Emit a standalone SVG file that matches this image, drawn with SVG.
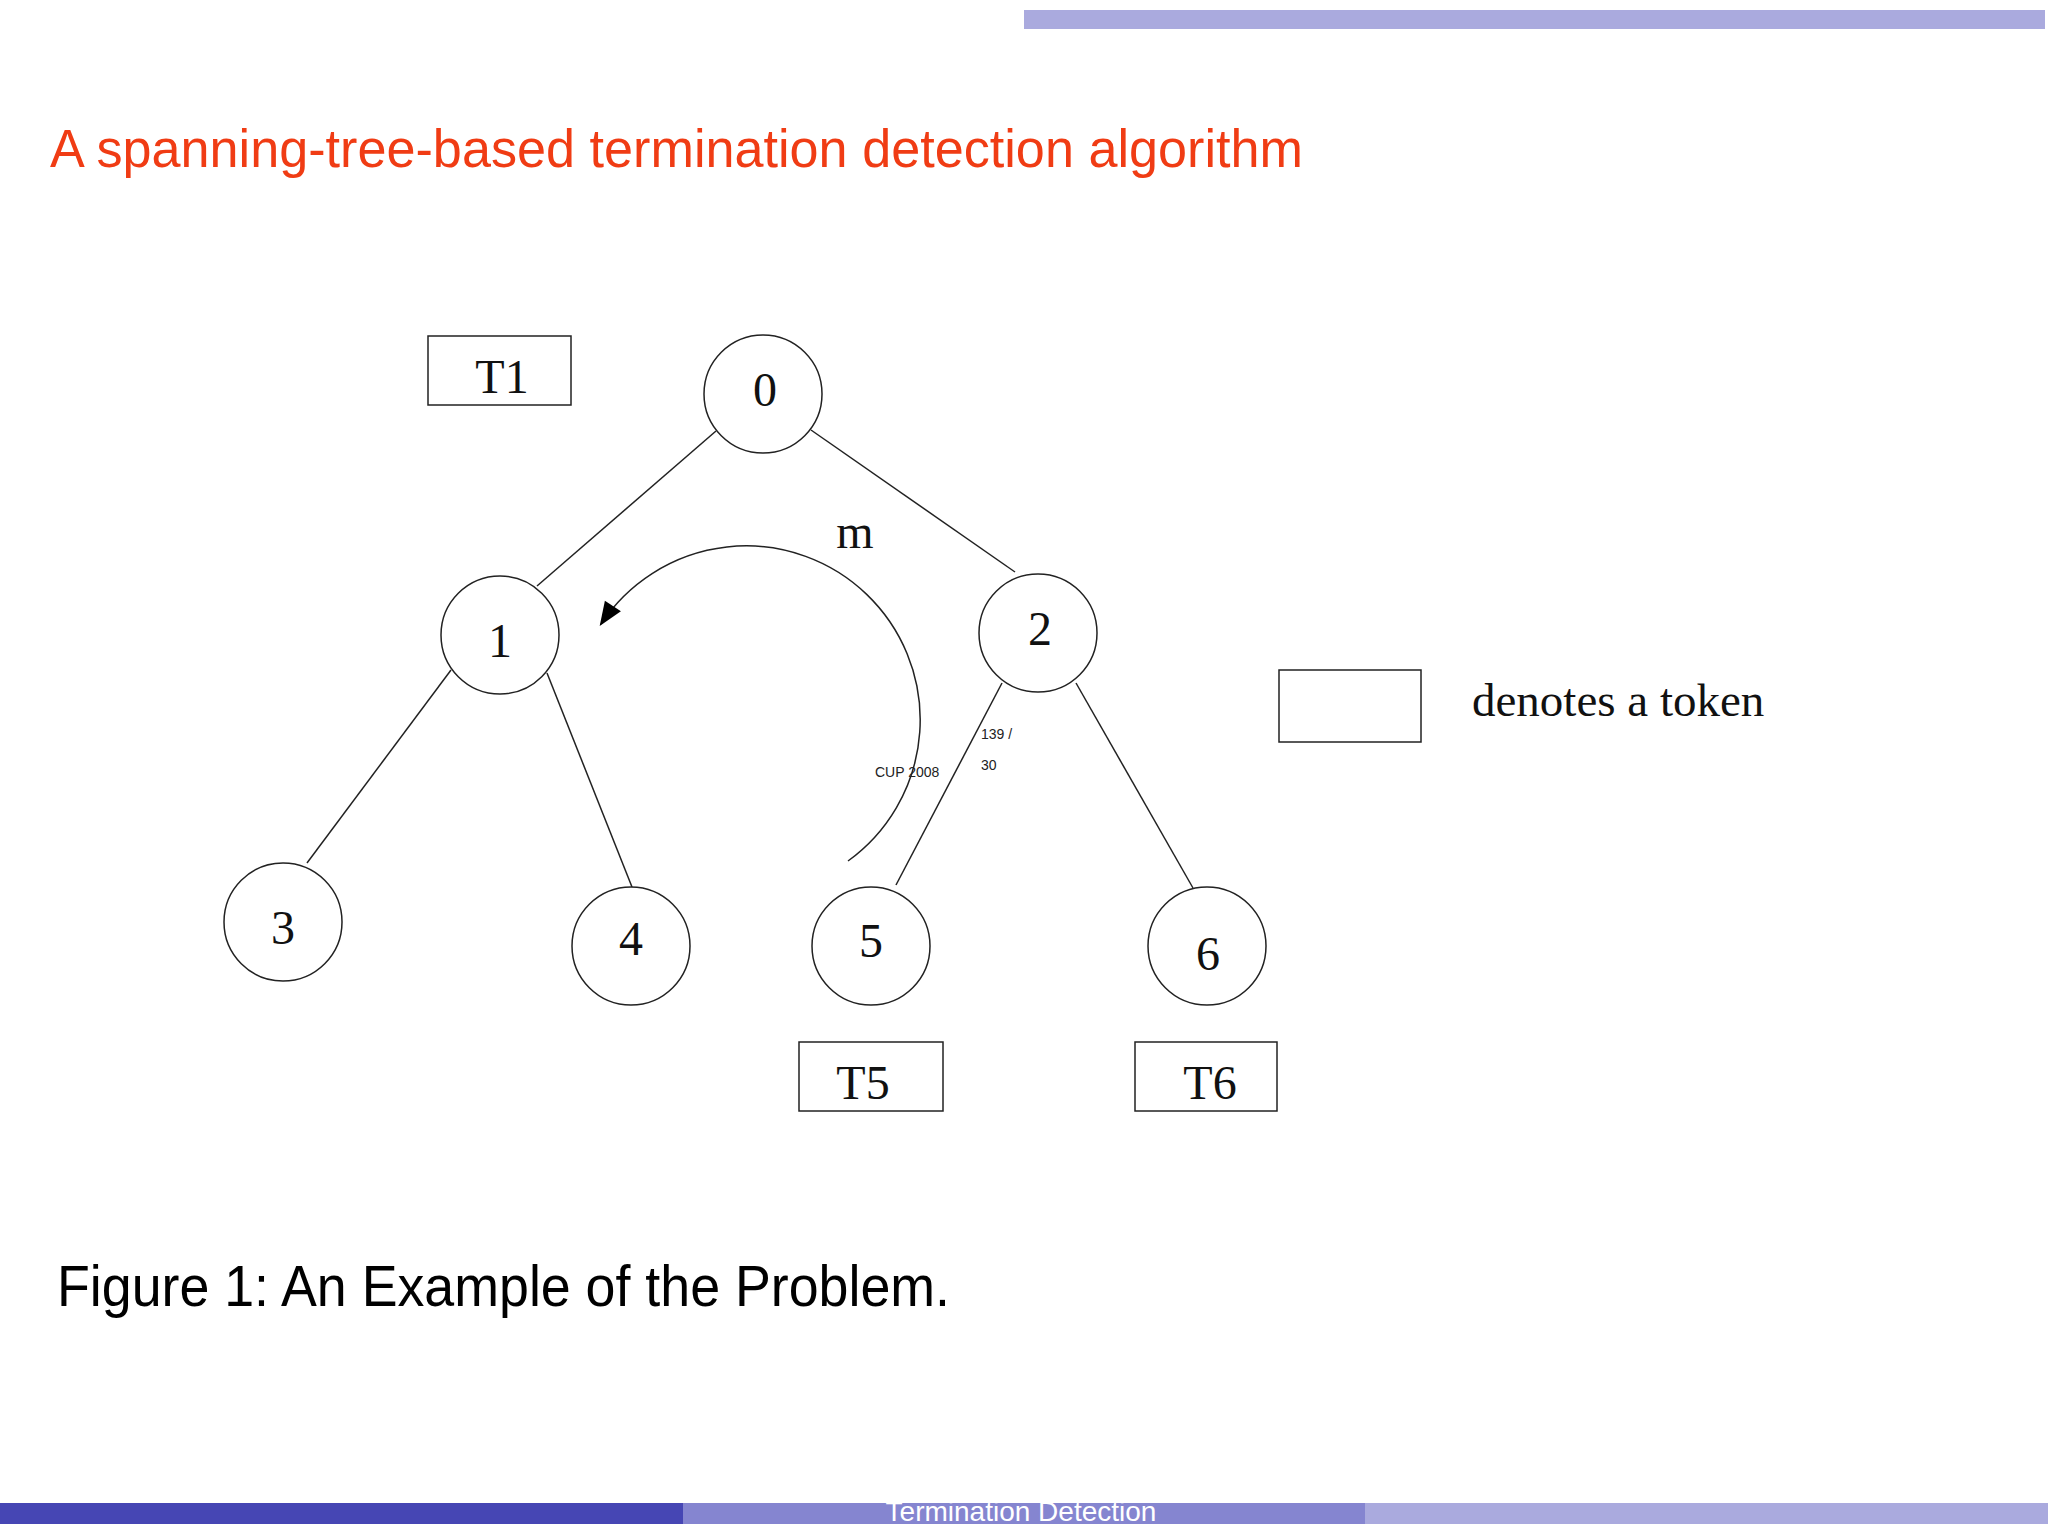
<svg xmlns="http://www.w3.org/2000/svg" width="2048" height="1536" viewBox="0 0 2048 1536">
<style>
.n{fill:#fff;stroke:#222;stroke-width:1.5}
.d{font-family:"Liberation Serif",serif;font-size:48px;text-anchor:middle;fill:#111}
.e{stroke:#222;stroke-width:1.5;fill:none}
.s{font-family:"Liberation Sans",sans-serif;font-size:14px;fill:#222}
.t{fill:#fff;stroke:#222;stroke-width:1.5}
</style>
<defs><marker id="ah" viewBox="0 0 10 10" refX="9" refY="5" markerWidth="30" markerHeight="24" markerUnits="userSpaceOnUse" orient="auto"><path d="M0,1L10,5L0,9z" fill="#000"/></marker></defs>
<rect width="2048" height="1536" fill="#fff"/>
<rect x="1024" y="10" width="1021" height="19" fill="#aaaade"/>
<text x="50" y="167" font-family="Liberation Sans,sans-serif" font-size="54" fill="#f03c14" textLength="1253" lengthAdjust="spacingAndGlyphs">A spanning-tree-based termination detection algorithm</text>
<g id="connectors">
<line class="e" x1="716" y1="431" x2="537" y2="586"/>
<line class="e" x1="811" y1="430" x2="1015" y2="572"/>
<line class="e" x1="451" y1="670" x2="307" y2="863"/>
<line class="e" x1="547" y1="673" x2="632" y2="887"/>
<line class="e" x1="1002" y1="683" x2="896" y2="885"/>
<line class="e" x1="1076" y1="683" x2="1193" y2="888"/>
<path class="e" d="M848,861 A174,174 0 1 0 601,624" marker-end="url(#ah)"/>
<text x="855" y="548" class="d" font-size="50">m</text>
<text x="875" y="777" class="s">CUP 2008</text>
<text x="981" y="739" class="s">139 /</text>
<text x="981" y="770" class="s">30</text>
</g>
<g id="node0"><circle class="n" cx="763" cy="394" r="59"/><text class="d" x="765" y="406">0</text></g>
<g id="node1"><circle class="n" cx="500" cy="635" r="59"/><text class="d" x="500" y="657">1</text></g>
<g id="node2"><circle class="n" cx="1038" cy="633" r="59"/><text class="d" x="1040" y="645">2</text></g>
<g id="node3"><circle class="n" cx="283" cy="922" r="59"/><text class="d" x="283" y="944">3</text></g>
<g id="node4"><circle class="n" cx="631" cy="946" r="59"/><text class="d" x="631" y="955">4</text></g>
<g id="node5"><circle class="n" cx="871" cy="946" r="59"/><text class="d" x="871" y="957">5</text></g>
<g id="node6"><circle class="n" cx="1207" cy="946" r="59"/><text class="d" x="1208" y="970">6</text></g>
<g id="T1"><rect class="t" x="428" y="336" width="143" height="69"/><text class="d" x="502" y="393">T1</text></g>
<g id="T5"><rect class="t" x="799" y="1042" width="144" height="69"/><text class="d" x="863" y="1099">T5</text></g>
<g id="T6"><rect class="t" x="1135" y="1042" width="142" height="69"/><text class="d" x="1210" y="1099">T6</text></g>
<g id="legend"><rect class="t" x="1279" y="670" width="142" height="72"/><text class="d" x="1472" y="716" style="text-anchor:start;font-size:47px">denotes a token</text></g>
<text x="57" y="1306" font-family="Liberation Sans,sans-serif" font-size="58" fill="#000" textLength="893" lengthAdjust="spacingAndGlyphs">Figure 1: An Example of the Problem.</text>
<rect x="0" y="1503" width="683" height="21" fill="#4646b4"/>
<rect x="683" y="1503" width="682" height="21" fill="#8585d0"/>
<rect x="1365" y="1503" width="683" height="21" fill="#aaaade"/>
<text x="1021" y="1521" font-family="Liberation Sans,sans-serif" font-size="28" fill="#fff" text-anchor="middle">Termination Detection</text>
</svg>
